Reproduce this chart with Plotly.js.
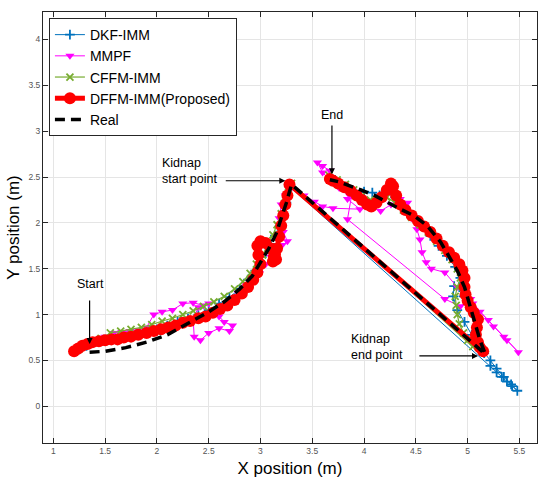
<!DOCTYPE html>
<html>
<head>
<meta charset="utf-8">
<script src="https://cdn.plot.ly/plotly-3.0.1.min.js"></script>
<style>html,body{margin:0;padding:0;background:#fff;}#chart{width:540px;height:479px;}</style>
</head>
<body>
<div id="chart"></div>
<script>
// ---- data ----
const seriesNames = ["DKF-IMM", "MMPF", "CFFM-IMM", "DFFM-IMM(Proposed)", "Real"];

const dkfX = [1.25,1.32,1.4,1.5,1.6,1.7,1.8,1.9,2.0,2.1,2.2,2.3,2.4,2.5,2.6,2.7,2.8,2.88,2.95,3.0,3.05,3.1,3.14,3.18,3.22,3.25,3.28,
  5.22,5.28,5.33,5.38,5.43,5.48,
  5.42,5.35,5.28,5.22,5.16,5.1,5.04,4.97,4.9,4.86,
  4.87,4.92,4.96,
  4.93,4.88,4.8,4.72,4.64,4.55,4.46,4.38,4.3,4.22,4.15,4.08,4.0,3.92,3.85,3.78,3.72];
const dkfY = [0.62,0.66,0.7,0.72,0.74,0.76,0.79,0.81,0.84,0.88,0.92,0.96,1.0,1.05,1.12,1.19,1.28,1.38,1.48,1.57,1.67,1.77,1.86,1.96,2.08,2.22,2.4,
  0.44,0.37,0.32,0.27,0.22,0.17,
  0.24,0.32,0.41,0.5,0.58,0.67,0.78,0.92,1.05,1.2,
  1.31,1.3,1.2,
  1.4,1.52,1.64,1.75,1.86,1.97,2.08,2.18,2.28,2.33,2.3,2.33,2.34,2.32,2.36,2.42,2.47];

const mmpfX = [1.3,1.4,1.5,1.58,1.66,1.74,1.82,1.9,1.97,2.05,2.15,2.25,2.35,2.45,2.5,2.4,2.35,2.36,2.42,2.5,
  2.6,2.7,2.73,2.65,2.6,2.7,2.78,2.86,2.93,2.99,3.05,3.1,3.16,3.21,3.26,3.22,3.18,3.2,3.24,3.27,
  3.42,3.52,3.6,3.7,3.96,3.84,3.88,3.84,
  4.78,4.93,5.03,5.12,5.25,5.38,5.49,5.35,5.2,5.05,4.9,4.78,4.65,4.6,4.56,4.54,4.51,4.46,4.42,4.35,
  4.26,4.16,4.06,3.96,3.86,3.76,3.68,3.6,3.55,3.6,3.67];
const mmpfY = [0.66,0.71,0.76,0.8,0.81,0.82,0.83,0.86,1.0,1.03,1.05,1.12,1.13,1.1,1.12,1.08,0.95,0.76,0.72,0.8,
  0.85,0.82,0.88,0.92,0.98,1.15,1.24,1.32,1.39,1.45,1.55,1.63,1.71,1.76,1.8,1.9,2.05,2.2,2.3,2.38,
  2.3,2.23,2.18,2.16,2.15,2.26,2.3,2.04,
  1.17,1.09,1.17,1.03,0.87,0.72,0.59,0.76,0.94,1.12,1.3,1.46,1.5,1.57,1.68,1.82,1.93,2.05,2.22,2.26,
  2.2,2.13,2.17,2.24,2.3,2.38,2.45,2.55,2.66,2.62,2.57];

const cffmX = [1.25,1.3,1.38,1.46,1.55,1.65,1.75,1.85,1.95,2.05,2.15,2.25,2.35,2.45,2.55,2.65,2.75,2.83,2.9,2.96,3.02,3.07,3.12,3.16,3.2,3.24,3.27,3.3,
  5.05,5.0,4.96,4.92,4.9,4.89,4.88,4.9,4.93,4.9,4.85,4.78,4.7,4.62,4.54,4.46,4.38,4.3,4.22,4.14,4.06,3.98,3.9,3.82,3.74,3.66];
const cffmY = [0.63,0.66,0.7,0.74,0.8,0.82,0.84,0.86,0.89,0.93,0.96,1.0,1.04,1.09,1.14,1.2,1.28,1.36,1.45,1.55,1.65,1.76,1.87,1.98,2.1,2.22,2.33,2.43,
  0.65,0.72,0.8,0.9,1.0,1.1,1.2,1.3,1.4,1.5,1.6,1.7,1.8,1.9,1.98,2.06,2.14,2.22,2.28,2.26,2.25,2.3,2.36,2.42,2.47,2.52];

const dffmX = [1.2,1.24,1.28,1.33,1.38,1.44,1.5,1.56,1.62,1.68,1.75,1.82,1.9,1.97,2.04,2.11,2.18,2.25,2.32,2.4,
  2.47,2.54,2.61,2.68,2.75,2.82,2.88,2.93,2.97,3.0,2.98,2.97,3.0,3.05,3.1,3.14,3.15,3.12,3.13,3.16,
  3.18,3.2,3.22,3.24,3.26,3.28,
  5.15,5.12,5.1,5.08,5.09,5.1,5.06,5.03,5.0,4.98,4.97,4.97,4.95,4.92,4.87,4.82,4.76,4.7,4.64,4.58,
  4.52,4.46,4.4,4.35,4.31,4.28,4.26,4.22,4.17,4.12,4.07,4.03,3.98,3.93,3.87,3.81,3.75,3.7,3.67];
const dffmY = [0.6,0.63,0.66,0.68,0.7,0.71,0.72,0.73,0.73,0.75,0.76,0.78,0.8,0.82,0.84,0.86,0.88,0.91,0.93,0.96,
  0.98,1.02,1.06,1.1,1.16,1.23,1.3,1.38,1.46,1.55,1.65,1.75,1.8,1.78,1.72,1.66,1.6,1.58,1.63,1.72,
  1.85,1.97,2.08,2.2,2.3,2.42,
  0.6,0.64,0.7,0.78,0.86,0.95,1.02,1.08,1.15,1.22,1.3,1.4,1.48,1.55,1.62,1.68,1.75,1.83,1.9,1.96,
  2.02,2.08,2.14,2.2,2.3,2.4,2.43,2.36,2.28,2.22,2.18,2.2,2.25,2.3,2.35,2.39,2.43,2.46,2.48];

const realX = [1.35,1.5,1.7,1.9,2.1,2.3,2.5,2.65,2.8,2.92,3.0,3.08,3.15,3.2,3.25,3.3,
  5.17,
  5.12,5.08,5.03,4.97,4.9,4.83,4.74,4.61,4.48,4.35,4.22,4.1,3.97,3.85,3.75,3.67];
const realY = [0.59,0.6,0.64,0.7,0.78,0.9,1.03,1.14,1.28,1.42,1.57,1.72,1.88,2.04,2.22,2.42,
  0.57,
  0.72,0.88,1.08,1.3,1.48,1.62,1.79,1.97,2.08,2.15,2.23,2.3,2.36,2.41,2.45,2.47];

const xTicks = [1, 1.5, 2, 2.5, 3, 3.5, 4, 4.5, 5, 5.5];
const xTickText = ["1", "1.5", "2", "2.5", "3", "3.5", "4", "4.5", "5", "5.5"];
const yTicks = [0, 0.5, 1, 1.5, 2, 2.5, 3, 3.5, 4];
const yTickText = ["0", "0.5", "1", "1.5", "2", "2.5", "3", "3.5", "4"];

// annotation labels: [text, text x, text y, arrow tail x, tail y, arrow tip x, tip y]
const notes = [
  ["Kidnap<br>start point", 2.03, 2.57, 2.65, 2.46, 3.24, 2.46],
  ["End", 3.69, 3.18, 3.69, 3.08, 3.69, 2.53],
  ["Start", 1.36, 1.33, 1.35, 1.17, 1.35, 0.68],
  ["Kidnap<br>end point", 3.85, 0.645, 4.52, 0.55, 5.10, 0.55]
];

// ---- drawing ----
const FONT = "Liberation Sans, Arial, Helvetica, sans-serif";
const traces = [
  {x: dkfX, y: dkfY, name: seriesNames[0], mode: "lines+markers",
   line: {color: "#0072BD", width: 1},
   marker: {symbol: "cross-thin", size: 7, line: {color: "#0072BD", width: 1.8}, color: "#0072BD"}},
  {x: mmpfX, y: mmpfY, name: seriesNames[1], mode: "lines+markers",
   line: {color: "#FF00FF", width: 1},
   marker: {symbol: "triangle-down", size: 8, color: "#FF00FF"}},
  {x: cffmX, y: cffmY, name: seriesNames[2], mode: "lines+markers",
   line: {color: "#77AC30", width: 1.2},
   marker: {symbol: "x-thin", size: 7, line: {color: "#77AC30", width: 1.8}, color: "#77AC30"}},
  {x: dffmX, y: dffmY, name: seriesNames[3], mode: "lines+markers",
   line: {color: "#FF0000", width: 5},
   marker: {symbol: "circle", size: 12, color: "#FF0000"}},
  {x: realX, y: realY, name: seriesNames[4], mode: "lines",
   line: {color: "#000000", width: 3.5, dash: "10px,6px"}}
];

const annotations = [];
notes.forEach(n => {
  annotations.push({x: n[1], y: n[2], xref: "x", yref: "y", text: n[0], showarrow: false,
    xanchor: n[0].indexOf("<br>") >= 0 ? "left" : "center", yanchor: "middle", align: "left",
    font: {family: FONT, size: 12.5, color: "#000"}});
  annotations.push({x: n[5], y: n[6], ax: n[3], ay: n[4], xref: "x", yref: "y", axref: "x", ayref: "y",
    text: "", showarrow: true, arrowhead: 2, arrowsize: 1, arrowwidth: 1.2, arrowcolor: "#000", standoff: 0, startstandoff: 0});
});

const axisCommon = {
  showline: true, linecolor: "#262626", linewidth: 1, mirror: "ticks",
  ticks: "inside", ticklen: 5, tickcolor: "#262626", tickwidth: 1,
  showgrid: true, gridcolor: "#e5e5e5", gridwidth: 1, zeroline: false,
  tickfont: {family: FONT, size: 8.5, color: "#555"}, tickmode: "array"
};

const layout = {
  width: 540, height: 479,
  margin: {l: 43, r: 3, t: 12, b: 36},
  paper_bgcolor: "#fff", plot_bgcolor: "#fff",
  showlegend: true,
  legend: {x: 0.012, y: 0.986, xanchor: "left", yanchor: "top", bgcolor: "#fff",
    bordercolor: "#262626", borderwidth: 1, font: {family: FONT, size: 14, color: "#000"},
    tracegroupgap: 0, itemwidth: 30},
  xaxis: Object.assign({}, axisCommon, {range: [0.9, 5.67], tickvals: xTicks, ticktext: xTickText,
    title: {text: "X position (m)", font: {family: FONT, size: 17, color: "#000"}, standoff: 6}}),
  yaxis: Object.assign({}, axisCommon, {range: [-0.4, 4.3], tickvals: yTicks, ticktext: yTickText,
    title: {text: "Y position (m)", font: {family: FONT, size: 17, color: "#000"}, standoff: 4}}),
  annotations: annotations
};

Plotly.newPlot("chart", traces, layout, {displayModeBar: false, staticPlot: true});
</script>
</body>
</html>
